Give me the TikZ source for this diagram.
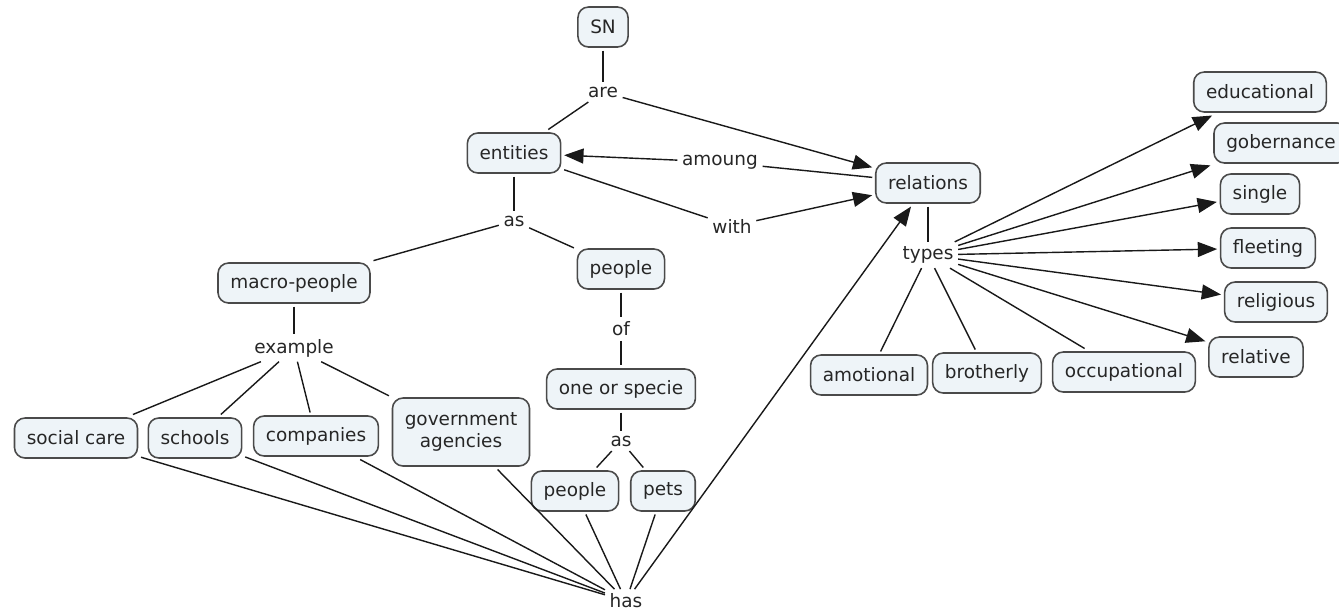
\documentclass[tikz,border=0pt]{standalone}
\usepackage{fontspec}
\setmainfont{DejaVu Sans}
\usetikzlibrary{arrows.meta}
\definecolor{cfill}{HTML}{EEF4F8}
\definecolor{cline}{HTML}{4A4A4A}

\tikzset{
  concept/.style={draw=cline, line width=0.9pt, fill=cfill, rounded corners=6pt,
    inner xsep=7pt, minimum height=0.8cm, outer sep=2pt, align=center,
    text=black!85, font=\fontsize{10.5}{13}\selectfont},
  linkword/.style={inner sep=2.5pt, text=black!85, font=\fontsize{10.5}{13}\selectfont},
  link/.style={line width=0.8pt, black!90},
  arrowlink/.style={link, -{Triangle[length=11pt,width=8.5pt]}}
}

\begin{document}
\begin{tikzpicture}[x=0.02cm, y=-0.02cm]
\useasboundingbox (0,0) rectangle (1339,613);

% concepts
\node [concept] (sn) at (603,27) {SN};
\node [concept] (entities) at (514,153) {entities};
\node [concept] (relations) at (928,183) {relations};
\node [concept] (macro) at (294,283) {macro-people};
\node [concept] (people) at (621,269) {people};
\node [concept] (specie) at (621,389) {one or specie};
\node [concept] (persons) at (575,491) {people};
\node [concept] (pets) at (663,491) {pets};
\node [concept] (social) at (76,438) {social care};
\node [concept] (schools) at (195,438) {schools};
\node [concept] (companies) at (316,436) {companies};
\node [concept, minimum height=1.36cm] (gov) at (461,432) {government\\agencies};
\node [concept] (amotional) at (869,375) {amotional};
\node [concept] (brotherly) at (987,373) {brotherly};
\node [concept] (occupational) at (1124,372) {occupational};
\node [concept] (educational) at (1260,92) {educational};
\node [concept] (gobernance) at (1281,143) {gobernance};
\node [concept] (single) at (1260,194) {single};
\node [concept] (fleeting) at (1268,248) {fleeting};
\node [concept] (religious) at (1276,302) {religious};
\node [concept] (relative) at (1256,357) {relative};

% linking words
\node [linkword] (are) at (603,92) {are};
\node [linkword] (amoung) at (720,162) {amoung};
\node [linkword] (with) at (732,226) {with};
\node [linkword] (as) at (514,221) {as};
\node [linkword] (example) at (294,348) {example};
\node [linkword] (of) at (621,329) {of};
\node [linkword] (as2) at (621,441) {as};
\node [linkword] (has) at (626,601) {has};
\node [linkword] (types) at (928,255) {types};

% connectors
\draw [link] (sn) -- (are);
\draw [link] (are) -- (entities);
\draw [arrowlink] (are) -- (relations);
\draw [link] (relations) -- (amoung);
\draw [arrowlink] (amoung) -- (entities);
\draw [link] (entities) -- (with);
\draw [arrowlink] (with) -- (relations);
\draw [link] (entities) -- (as);
\draw [link] (as) -- (macro);
\draw [link] (as) -- (people);
\draw [link] (macro) -- (example);
\foreach \c in {social, schools, companies, gov}
  \draw [link] (example) -- (\c);
\draw [link] (people) -- (of);
\draw [link] (of) -- (specie);
\draw [link] (specie) -- (as2);
\draw [link] (as2) -- (persons);
\draw [link] (as2) -- (pets);
\foreach \c in {social, schools, companies, gov, persons, pets}
  \draw [link] (\c) -- (has);
\draw [arrowlink] (has) -- (relations);
\draw [link] (relations) -- (types);
\foreach \c in {educational, gobernance, single, fleeting, religious, relative}
  \draw [arrowlink] (types) -- (\c);
\foreach \c in {amotional, brotherly, occupational}
  \draw [link] (types) -- (\c);
\end{tikzpicture}
\end{document}
